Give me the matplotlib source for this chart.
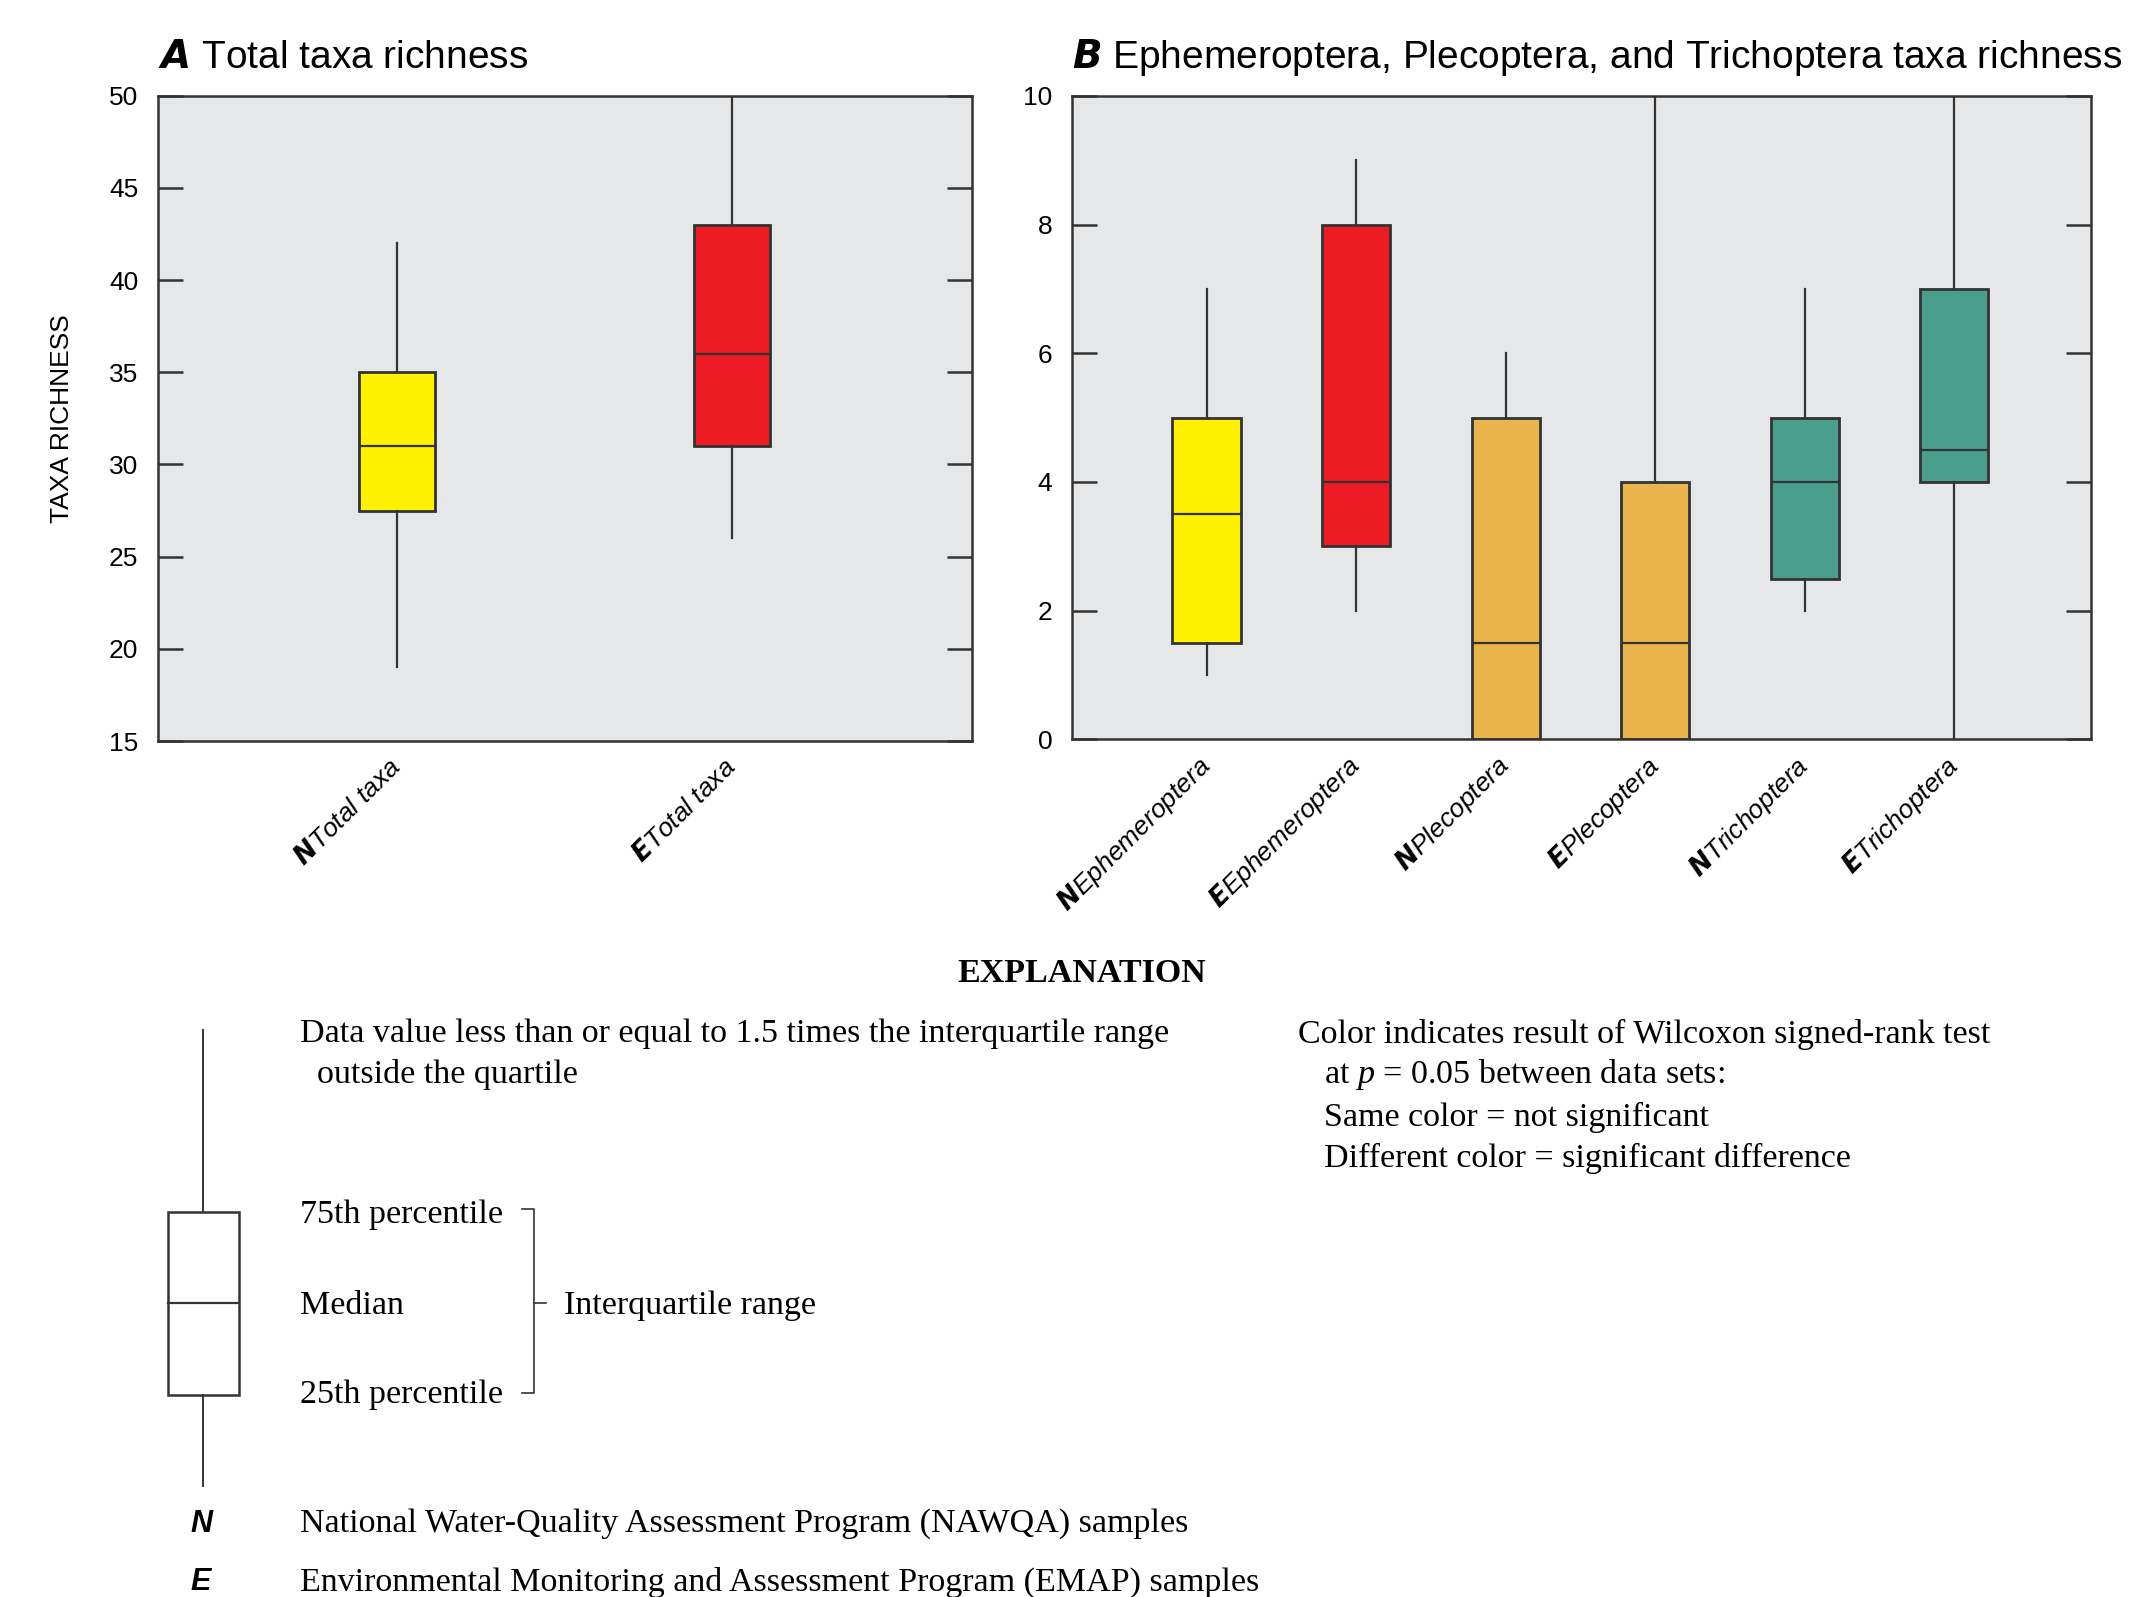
import matplotlib
matplotlib.use("Agg")
import matplotlib.pyplot as plt
from matplotlib.patches import Rectangle

plt.rcParams["font.family"] = ["Liberation Sans Narrow", "Liberation Sans"]
plt.rcParams["mathtext.fontset"] = "custom"
plt.rcParams["mathtext.bf"] = "DejaVu Sans:bold:italic"
plt.rcParams["mathtext.it"] = "Liberation Serif:italic"
plt.rcParams["mathtext.rm"] = "Liberation Serif"

# A: total taxa richness (NAWQA vs EMAP)
total_groups = ["N", "E"]
total_names = ["Total taxa", "Total taxa"]
total_lo = [19, 26]
total_q1 = [27.5, 31]
total_med = [31, 36]
total_q3 = [35, 43]
total_hi = [42, 50]
total_colors = ["#FFF100", "#ED1C24"]

# B: EPT taxa richness
ept_groups = ["N", "E", "N", "E", "N", "E"]
ept_names = ["Ephemeroptera", "Ephemeroptera", "Plecoptera", "Plecoptera",
             "Trichoptera", "Trichoptera"]
ept_lo = [1, 2, 0, 0, 2, 0]
ept_q1 = [1.5, 3, 0, 0, 2.5, 4]
ept_med = [3.5, 4, 1.5, 1.5, 4, 4.5]
ept_q3 = [5, 8, 5, 4, 5, 7]
ept_hi = [7, 9, 6, 10, 7, 10]
ept_colors = ["#FFF100", "#ED1C24", "#EAB44D", "#EAB44D", "#4A9E8C", "#4A9E8C"]

W, H = 2131, 1597
DARK = "#333333"
BG = "#E6E7E8"

fig = plt.figure(figsize=(W / 100, H / 100), dpi=100)


def draw_panel(ax, groups, names, lo, q1, med, q3, hi, colors, width, xlim, ylim, yticks, title):
    stats = [dict(whislo=a, q1=b, med=c, q3=d, whishi=e)
             for a, b, c, d, e in zip(lo, q1, med, q3, hi)]
    pos = list(range(1, len(stats) + 1))
    bp = ax.bxp(stats, positions=pos, widths=width, patch_artist=True,
                showcaps=False, showfliers=False,
                boxprops=dict(edgecolor=DARK, linewidth=2),
                medianprops=dict(color=DARK, linewidth=1.6),
                whiskerprops=dict(color=DARK, linewidth=1.6))
    for box, c in zip(bp["boxes"], colors):
        box.set_facecolor(c)
    ax.set_facecolor(BG)
    ax.set_xlim(*xlim)
    ax.set_ylim(*ylim)
    ax.set_yticks(yticks)
    labels = [rf"$\mathbf{{{g}}}$" + n for g, n in zip(groups, names)]
    ax.set_xticks(pos, labels, rotation=45, ha="right", va="center",
                  rotation_mode="anchor", fontstyle="italic", fontsize=19)
    ax.tick_params(axis="x", length=0, pad=16)
    ax.tick_params(axis="y", direction="in", length=18, width=1.8, color=DARK,
                   left=True, right=True, labelsize=19, pad=14)
    for s in ax.spines.values():
        s.set_color(DARK)
        s.set_linewidth(1.8)
    ax.set_title(title, loc="left", fontsize=28, pad=20)


ax_a = fig.add_axes([0.074, 0.536, 0.382, 0.404])
draw_panel(ax_a, total_groups, total_names, total_lo, total_q1, total_med, total_q3,
           total_hi, total_colors, 0.227, (0.287, 2.715), (15, 50), range(15, 51, 5),
           r"$\mathbf{A}$ Total taxa richness")
ax_a.set_ylabel("TAXA RICHNESS", fontsize=19, va="center")
ax_a.yaxis.set_label_coords(-0.117, 0.5)

ax_b = fig.add_axes([0.503, 0.537, 0.478, 0.403])
draw_panel(ax_b, ept_groups, ept_names, ept_lo, ept_q1, ept_med, ept_q3,
           ept_hi, ept_colors, 0.455, (0.1, 6.91), (0, 10), range(0, 11, 2),
           r"$\mathbf{B}$ Ephemeroptera, Plecoptera, and Trichoptera taxa richness")

# explanation block, laid out in figure pixels
ov = fig.add_axes([0, 0, 1, 1])
ov.set_xlim(0, W)
ov.set_ylim(H, 0)
ov.axis("off")

serif = dict(family="Liberation Serif", fontsize=24.5, va="center")
ov.text(1082, 974, "EXPLANATION", ha="center", fontweight="bold", **serif)
ov.text(300, 1034, "Data value less than or equal to 1.5 times the interquartile range", **serif)
ov.text(317, 1075, "outside the quartile", **serif)
ov.text(1298, 1034, "Color indicates result of Wilcoxon signed-rank test", **serif)
ov.text(1324, 1075, r"at $p$ = 0.05 between data sets:", **serif)
ov.text(1324, 1117, "Same color = not significant", **serif)
ov.text(1324, 1158, "Different color = significant difference", **serif)
ov.text(300, 1215, "75th percentile", **serif)
ov.text(300, 1306, "Median", **serif)
ov.text(300, 1395, "25th percentile", **serif)
ov.text(564, 1306, "Interquartile range", **serif)
ov.text(300, 1524, "National Water-Quality Assessment Program (NAWQA) samples", **serif)
ov.text(300, 1582, "Environmental Monitoring and Assessment Program (EMAP) samples", **serif)
ov.text(201, 1524, "N", ha="center", va="center", fontsize=22, fontweight="bold", fontstyle="italic")
ov.text(201, 1582, "E", ha="center", va="center", fontsize=22, fontweight="bold", fontstyle="italic")

# sample box glyph
ov.plot([203, 203], [1030, 1212], color=DARK, lw=1.4)
ov.plot([203, 203], [1395, 1486], color=DARK, lw=1.4)
ov.add_patch(Rectangle((168, 1212), 71, 183, facecolor="white", edgecolor=DARK, lw=1.8))
ov.plot([168, 239], [1303, 1303], color=DARK, lw=1.6)

# bracket for interquartile range
ov.plot([522, 534, 534, 522], [1209, 1209, 1393, 1393], color=DARK, lw=1.2)
ov.plot([534, 546], [1303, 1303], color=DARK, lw=1.2)

fig.savefig("out.png", dpi=100)
